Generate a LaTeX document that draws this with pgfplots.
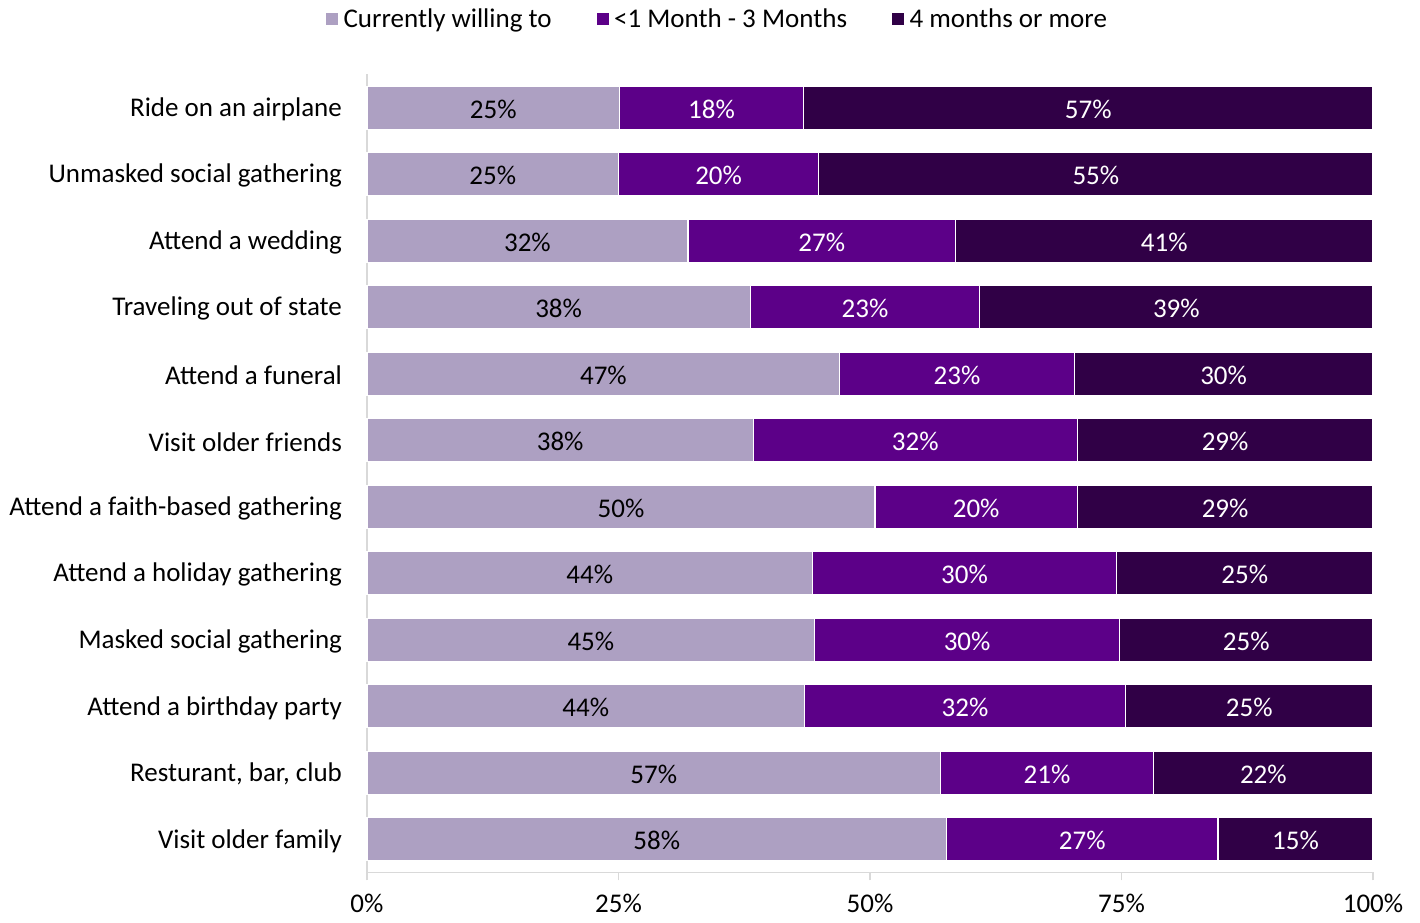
\documentclass[border=0pt]{standalone}
\usepackage{pgfplots}
\pgfplotsset{compat=1.18}
\usepackage{pgfplotstable}
\usepackage{fontspec}
\setmainfont{Carlito}
\definecolor{cLight}{HTML}{ADA0C2}
\definecolor{cMid}{HTML}{5C0088}
\definecolor{cDark}{HTML}{300046}
\definecolor{axgray}{HTML}{D9D9D9}
% y: position, a/al: currently willing, b/bl: <1-3 months, c/cl: 4 months or more
\pgfplotstableread{
y  a     al  b     bl  c     cl
12 25.1  25  18.3  18  56.6  57
11 25.0  25  19.9  20  55.1  55
10 31.9  32  26.6  27  41.5  41
9  38.1  38  22.8  23  39.1  39
8  47.0  47  23.3  23  29.7  30
7  38.4  38  32.2  32  29.4  29
6  50.5  50  20.1  20  29.4  29
5  44.3  44  30.2  30  25.5  25
4  44.5  45  30.3  30  25.2  25
3  43.5  44  31.9  32  24.6  25
2  57.0  57  21.2  21  21.8  22
1  57.6  58  27.0  27  15.4  15
}\datatable
\begin{document}
\begin{tikzpicture}
\begin{axis}[
  scale only axis,
  width=503pt, height=399pt,
  xbar stacked,
  bar width=21.5pt,
  xmin=0, xmax=100,
  ymin=0.5, ymax=12.5,
  axis x line*=bottom,
  axis y line*=left,
  axis line style={axgray, line width=0.8pt},
  xtick={0,25,50,75,100},
  xticklabels={0\%,25\%,50\%,75\%,100\%},
  tick align=outside,
  major tick length=4pt,
  xtick style={axgray, line width=0.8pt},
  ytick style={draw=none},
  ytick={1,...,12},
  yticklabels={Visit older family,{Resturant, bar, club},Attend a birthday party,Masked social gathering,Attend a holiday gathering,Attend a faith-based gathering,Visit older friends,Attend a funeral,Traveling out of state,Attend a wedding,Unmasked social gathering,Ride on an airplane},
  ticklabel style={font=\fontsize{13.5}{16}\selectfont, text=black},
  yticklabel style={xshift=-5pt, yshift=-0.8pt},
  xticklabel style={yshift=-3.5pt},
  legend style={at={(0.349,1.069)}, anchor=center, draw=none, fill=none,
    legend columns=3, font=\fontsize{13.5}{16}\selectfont,
    /tikz/every even column/.append style={column sep=20pt}},
  legend image code/.code={\fill[#1] (0pt,-3.3pt) rectangle (6.6pt,3.3pt);},
  point meta=explicit symbolic,
  nodes near coords={\pgfplotspointmeta\%},
  every node near coord/.append style={font=\fontsize{13.5}{16}\selectfont, anchor=center, yshift=-0.8pt},
  clip=false,
]
\addplot[fill=cLight, draw=white, line width=0.6pt, every node near coord/.append style={text=black}] table[x=a, y=y, meta=al] {\datatable};
\addplot[fill=cMid, draw=white, line width=0.6pt, every node near coord/.append style={text=white}] table[x=b, y=y, meta=bl] {\datatable};
\addplot[fill=cDark, draw=white, line width=0.6pt, every node near coord/.append style={text=white}] table[x=c, y=y, meta=cl] {\datatable};
\legend{Currently willing to,<1 Month - 3 Months,4 months or more}
\coordinate (bl) at (axis cs:-36.48,-0.25);
\coordinate (tr) at (axis cs:104.67,13.62);
\end{axis}
\pgfresetboundingbox
\path[use as bounding box] (bl) rectangle (tr);
\end{tikzpicture}
\end{document}
